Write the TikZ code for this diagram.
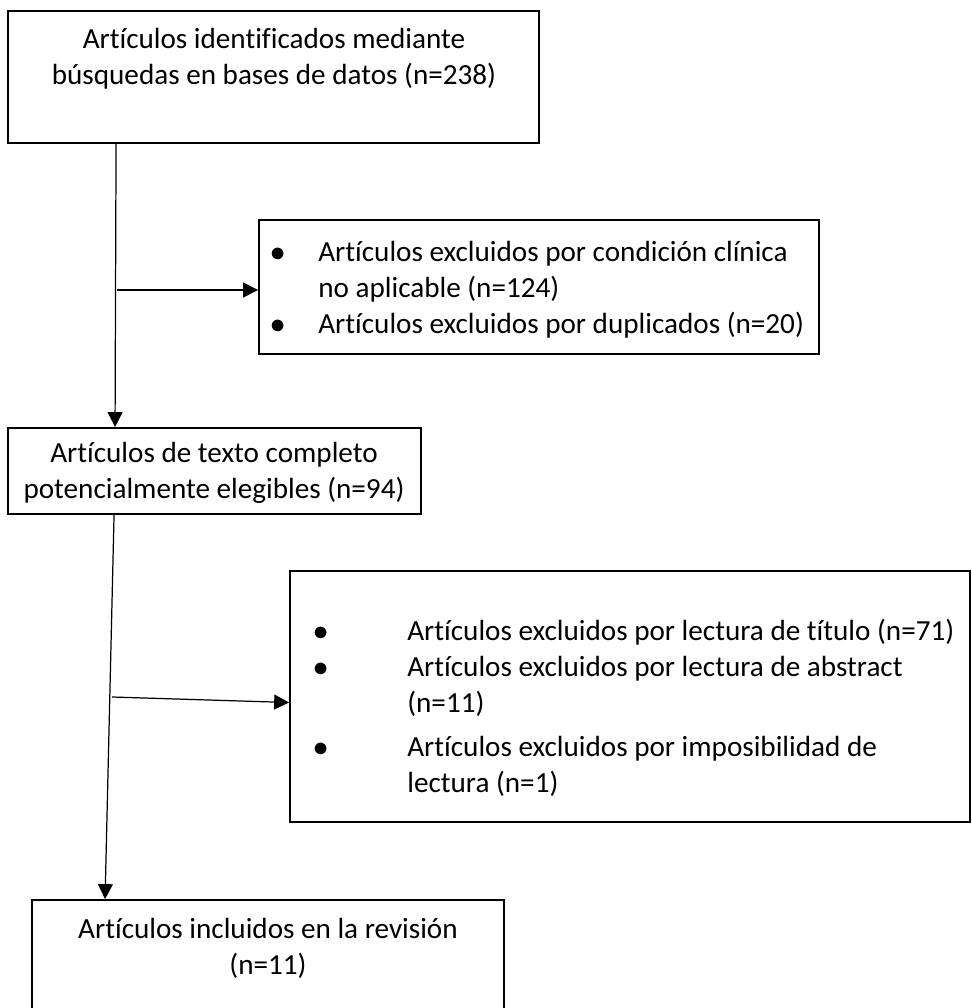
\documentclass[tikz,border=0pt]{standalone}
\usepackage{fontspec}
\setmainfont[Ligatures=NoCommon]{Carlito}
\usetikzlibrary{positioning, calc, arrows.meta}
\tikzset{box/.style={draw, line width=1.1pt, inner sep=0pt}}
\tikzset{txt/.style={inner sep=0pt, font=\fontsize{16.6pt}{20.5pt}\selectfont}}
\tikzset{flow/.style={line width=0.7pt, -{Triangle[length=8.5pt, width=8.5pt]}}}
\tikzset{link/.style={line width=0.7pt}}
\newcommand{\bul}[1]{\makebox[#1][l]{$\bullet$}}

\begin{document}
\begin{tikzpicture}[x=0.02cm, y=-0.02cm]
      \path[use as bounding box] (0,0) rectangle (971,1008);

      % boxes
      \node[box, minimum width=10.62cm, minimum height=2.64cm] (b1) at (273.5,77) {};
      \node[box, minimum width=11.2cm, minimum height=2.68cm] (b2) at (539,287) {};
      \node[box, minimum width=8.26cm, minimum height=1.72cm] (b3) at (214.5,471) {};
      \node[box, minimum width=13.6cm, minimum height=5.02cm] (b4) at (630,696.5) {};
      \node[box, minimum width=9.44cm, minimum height=2.24cm] (b5) at (268,956) {};

      % texts
      \node[txt, anchor=north] (t1) at (274,23) {
        \begin{tabular}{@{}c@{}}
          Artículos identificados mediante \\
          búsquedas en bases de datos (n=238) \\
        \end{tabular}
      };
      \node[txt, anchor=north west] (t2) at (270,236) {
        \begin{tabular}{@{}l@{}l@{}}
          \bul{0.96cm} & Artículos excluidos por condición clínica \\
           & no aplicable (n=124) \\
          \bul{0.96cm} & Artículos excluidos por duplicados (n=20) \\
        \end{tabular}
      };
      \node[txt, anchor=north] (t3) at (214,437) {
        \begin{tabular}{@{}c@{}}
          Artículos de texto completo \\
          potencialmente elegibles (n=94) \\
        \end{tabular}
      };
      \node[txt, anchor=north west] (t4) at (313,615) {
        \begin{tabular}{@{}l@{}l@{}}
          \bul{1.88cm} & Artículos excluidos por lectura de título (n=71) \\
          \bul{1.88cm} & Artículos excluidos por lectura de abstract \\
           & (n=11) \\[4.5pt]
          \bul{1.88cm} & Artículos excluidos por imposibilidad de \\
           & lectura (n=1) \\
        \end{tabular}
      };
      \node[txt, anchor=north] (t5) at (268,913) {
        \begin{tabular}{@{}c@{}}
          Artículos incluidos en la revisión \\
          (n=11) \\
        \end{tabular}
      };

      % connectors
      \coordinate (j1) at (117,290);
      \coordinate (j2) at (112,697);
      \draw[flow] ([xshift=2.18cm]b1.south west) -- ([xshift=2.16cm]b3.north west);
      \draw[flow] (j1) -- (j1 -| b2.west);
      \draw[flow] ([xshift=2.14cm]b3.south west) -- ([xshift=1.48cm]b5.north west);
      \draw[flow] (j2) -- ([yshift=-0.12cm]b4.west);
\end{tikzpicture}
\end{document}
